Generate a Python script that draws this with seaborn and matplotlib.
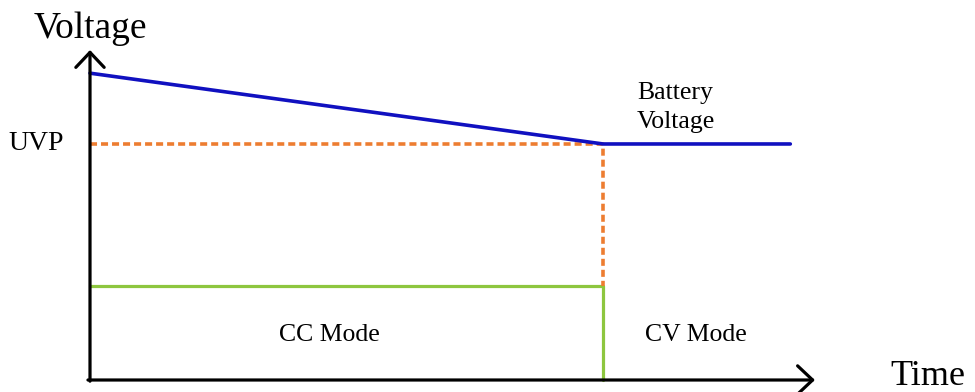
import matplotlib
matplotlib.use("Agg")
import matplotlib.pyplot as plt
import seaborn as sns

# Battery voltage over time: linear decline in CC mode, flat at UVP in CV mode
battery_time = [0.0, 10.0, 13.65]
battery_voltage = [13.0, 10.0, 10.0]

# Under-voltage protection level and the CC/CV switch time
uvp_level = 10.0
switch_time = 10.0

# Current profile: constant during CC mode, drops at the switch
current_time = [0.0, switch_time, switch_time]
current_level = [4.0, 4.0, 0.0]

# UVP guide (dotted): horizontal to the switch, then down to the current level
uvp_time = [0.0, switch_time, switch_time]
uvp_value = [uvp_level, uvp_level, 4.0]

axis_x_end = 14.13
axis_y_end = 13.98

sns.set_theme(style="white")
plt.rcParams["font.family"] = ["Liberation Serif", "DejaVu Serif"]

fig = plt.figure(figsize=(9.75, 3.92), dpi=100)
ax = fig.add_axes([90 / 975, 12 / 392, 885 / 975, 380 / 392])
ax.set_xlim(0, 17.25)
ax.set_ylim(0, 16.1)
ax.axis("off")

blue = "#1010C0"
orange = "#ED7D31"
green = "#8DC63F"

sns.lineplot(x=current_time, y=current_level, ax=ax, color=green, lw=2.3,
             sort=False, estimator=None, clip_on=False)
sns.lineplot(x=uvp_time, y=uvp_value, ax=ax, color=orange, lw=2.6,
             sort=False, estimator=None, clip_on=False,
             linestyle=(0, (1.95, 1.1)))
sns.lineplot(x=battery_time, y=battery_voltage, ax=ax, color=blue, lw=2.6,
             sort=False, estimator=None, clip_on=False)

# Axes drawn as arrows
arrow = dict(arrowstyle="->,head_length=0.9,head_width=0.85", lw=2.3,
             color="black", shrinkA=0, shrinkB=0)
ax.annotate("", xy=(axis_x_end, 0), xytext=(-0.04, 0), arrowprops=arrow,
            annotation_clip=False)
ax.annotate("", xy=(0, axis_y_end), xytext=(0, -0.05), arrowprops=arrow,
            annotation_clip=False)

txt = dict(color="black", clip_on=False)
ax.text(0.0, 14.9, "Voltage", fontsize=27, ha="center", va="center", **txt)
ax.text(15.6, -0.2, "Time", fontsize=26, ha="left", va="baseline", **txt)
ax.text(-0.5, uvp_level, "UVP", fontsize=20, ha="right", va="center", **txt)
ax.text(4.66, 1.9, "CC Mode", fontsize=18.5, ha="center", va="center", **txt)
ax.text(11.8, 1.9, "CV Mode", fontsize=18.5, ha="center", va="center", **txt)
ax.text(10.66, 11.55, "Battery\nVoltage", fontsize=18.5, ha="left",
        va="center", linespacing=1.45, **txt)

fig.savefig("out.png", dpi=100)
